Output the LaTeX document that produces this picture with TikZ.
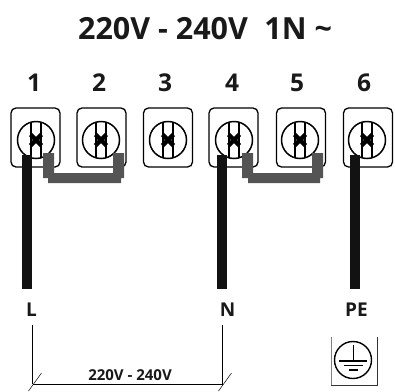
\documentclass[tikz,border=0pt]{standalone}
\usepackage{fontspec}
\setmainfont{Open Sans}
\begin{document}
\begin{tikzpicture}[x=1pt,y=-1pt,
  tbox/.style={draw=black,line width=1.3pt,rounded corners=5pt,minimum width=49pt,minimum height=59pt,inner sep=0pt},
  wire/.style={line width=10pt,draw=black!93},
  thin/.style={line width=0.9pt,draw=black},
  lbl/.style={font=\bfseries\fontsize{19}{19}\selectfont,inner sep=0pt,text=black!90},
  num/.style={font=\bfseries\fontsize{24.5}{24.5}\selectfont,inner sep=0pt,text=black!90}]
\useasboundingbox (0,0) rectangle (395,391);
\newcommand{\screw}[1]{%
  \draw[line width=1.5pt] (#1) circle (18.5);
  \draw[line width=1.2pt] ([xshift=-5pt,yshift=-17pt]#1) -- ([xshift=-5pt,yshift=17pt]#1);
  \draw[line width=1.2pt] ([xshift=5pt,yshift=-17pt]#1) -- ([xshift=5pt,yshift=17pt]#1);
  \draw[line width=4.4pt] ([xshift=-5.5pt,yshift=-5.5pt]#1) -- ([xshift=5.5pt,yshift=5.5pt]#1);
  \draw[line width=4.4pt] ([xshift=-5.5pt,yshift=5.5pt]#1) -- ([xshift=5.5pt,yshift=-5.5pt]#1);
}
\node[font=\bfseries\fontsize{30.5}{30.5}\selectfont,inner sep=0pt,text=black!90] (title) at (205,29) {220V - 240V\hspace{0.28em} 1N \textasciitilde};
\foreach \n/\x/\c/\nx in {1/35.5/36/34,2/101.5/101/99,3/168/168/165,4/233.5/234/232,5/301/300/297,6/368/367/364}{
  \node[tbox] (b\n) at (\x,137.5) {};
  \coordinate (c\n) at (\c,140);
  \screw{c\n}
  \node[num] (n\n) at (\nx,83) {\n};
}
% wires
\coordinate (w1) at (27,155); \coordinate (e1) at (27,289);
\coordinate (w4) at (222,155); \coordinate (e4) at (222,289);
\coordinate (w6) at (354.5,155); \coordinate (e6) at (354.5,289);
\draw[wire] (w1) -- (e1);
\draw[wire] (w4) -- (e4);
\draw[wire] (w6) -- (e6);
% bridges
\fill[black!67] (43,153) rectangle (54,178) (113,153) rectangle (124,178) (48,173) rectangle (121,183);
\fill[black!67] (242,153) rectangle (253,178) (312,153) rectangle (323,178) (248,173) rectangle (320,183);
% labels
\node[lbl] (L) at (31.5,310) {L};
\node[lbl] (N) at (227.5,310) {N};
\node[lbl] (PE) at (356.5,310) {PE};
% dimension
\coordinate (dl) at (32.5,384); \coordinate (dr) at (222.5,384);
\coordinate (tl) at (32.5,325); \coordinate (tr) at (222.5,325);
\draw[thin] (tl) -- (dl);
\draw[thin] (tr) -- (dr);
\draw[thin] (dl) -- (dr);
\draw[line width=0.5pt] ([xshift=-4pt,yshift=-7pt]dl) -- ([xshift=9pt,yshift=11pt]dl);
\draw[line width=0.5pt] ([xshift=-4pt,yshift=-7pt]dr) -- ([xshift=9pt,yshift=11pt]dr);
\node[font=\bfseries\fontsize{15}{15}\selectfont,inner sep=0pt,text=black!90] (vt) at (130,375) {220V - 240V};
% earth symbol
\draw[line width=0.6pt,draw=black!50] (331,337) -- (331,385);
\draw[line width=0.9pt,draw=black!80] (331,385) -- (377,385) -- (377,337);
\coordinate (ec) at (353,360);
\draw[line width=1.4pt] (ec) circle (18.5);
\draw[line width=1pt] (353,345) -- (353,361);
\draw[line width=1.1pt] (339,361) -- (367,361);
\draw[line width=1.1pt] (344,365.5) -- (363,365.5);
\draw[line width=1.1pt] (349,370) -- (358,370);
\end{tikzpicture}
\end{document}
